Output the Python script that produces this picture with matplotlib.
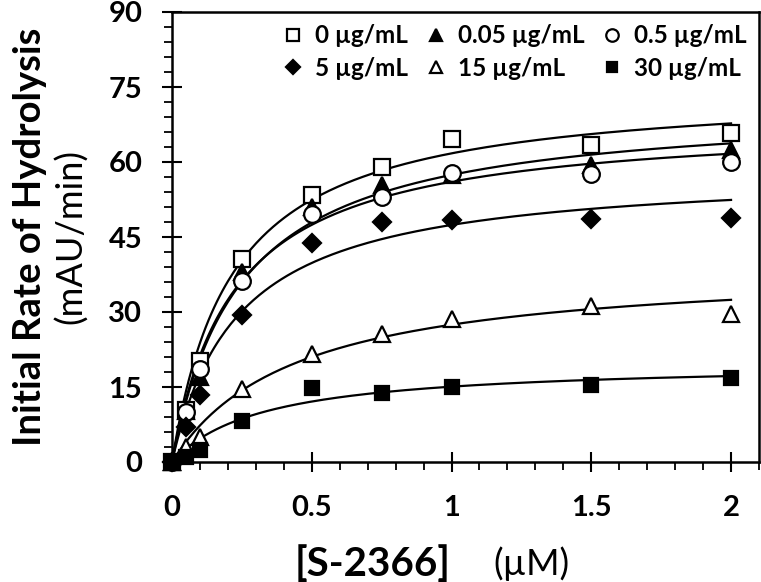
import numpy as np
import matplotlib.pyplot as plt
from matplotlib.ticker import MultipleLocator

# substrate concentrations (uM)
conc = [0, 0.05, 0.1, 0.25, 0.5, 0.75, 1, 1.5, 2]

# initial rates (mAU/min) for each inhibitor dose
rate_0 = [0, 10.5, 20.2, 40.7, 53.4, 59.0, 64.6, 63.4, 65.9]
rate_005 = [0, 10.2, 17.0, 38.0, 51.0, 55.4, 57.5, 59.4, 62.4]
rate_05 = [0, 10.0, 18.6, 36.2, 49.6, 53.0, 57.8, 57.6, 60.0]
rate_5 = [0, 7.0, 13.4, 29.4, 43.8, 48.0, 48.4, 48.7, 48.9]
rate_15 = [0, 3.0, 5.0, 14.6, 21.7, 25.7, 28.6, 31.3, 29.7]
rate_30 = [0, 1.0, 2.4, 8.3, 14.8, 13.9, 15.0, 15.4, 16.9]

labels = ['0 µg/mL', '0.05 µg/mL', '0.5 µg/mL', '5 µg/mL', '15 µg/mL', '30 µg/mL']

# Michaelis-Menten fit parameters
vmax = [75.0, 71.6, 68.5, 58.6, 39.6, 20.0]
km = [0.215, 0.247, 0.222, 0.236, 0.442, 0.327]

plt.rcParams['font.family'] = ['Lato', 'DejaVu Sans']

fig = plt.figure(figsize=(7.61, 5.82), dpi=100)
ax = fig.add_axes([172 / 761, 1 - 462 / 582, 587 / 761, 450 / 582])

series = [rate_0, rate_005, rate_05, rate_5, rate_15, rate_30]
# marker, face colour, size
styles = [('s', 'white', 12), ('^', 'black', 11), ('o', 'white', 12),
          ('D', 'black', 9), ('^', 'white', 11), ('s', 'black', 10)]

s = np.linspace(0, 2, 200)
for v, k in zip(vmax, km):
    ax.plot(s, v * s / (k + s), color='black', lw=1.6, zorder=2)

handles = []
for y, (m, fc, ms), lab in zip(series, styles, labels):
    h, = ax.plot(conc, y, linestyle='none', marker=m, markersize=ms,
                 markerfacecolor=fc, markeredgecolor='black', markeredgewidth=1.6,
                 label=lab, zorder=3, clip_on=False)
    handles.append(h)

ax.set_xlim(0, 2.1)
ax.set_ylim(0, 90)
ax.xaxis.set_major_locator(MultipleLocator(0.5))
ax.xaxis.set_minor_locator(MultipleLocator(0.1))
ax.yaxis.set_major_locator(MultipleLocator(15))
ax.yaxis.set_minor_locator(MultipleLocator(3))
ax.set_xticks([0, 0.5, 1, 1.5, 2])
ax.set_xticklabels(['0', '0.5', '1', '1.5', '2'])

ax.tick_params(which='major', direction='inout', length=15, width=1.5,
               labelsize=21)
ax.tick_params(axis='y', which='major', pad=14)
ax.tick_params(axis='x', which='major', pad=16)
ax.tick_params(which='minor', direction='out', length=6, width=1.3)
ax.tick_params(top=False, right=False, which='both')
for lab in ax.get_xticklabels() + ax.get_yticklabels():
    lab.set_fontweight('bold')
for sp in ax.spines.values():
    sp.set_linewidth(1.8)

# axis titles
ax.text(-0.242, 0.5, 'Initial Rate of Hydrolysis', transform=ax.transAxes,
        rotation=90, ha='center', va='center', fontsize=27.5, fontweight='bold')
ax.text(-0.172, 0.5, '(mAU/min)', transform=ax.transAxes,
        rotation=90, ha='center', va='center', fontsize=26)
ax.text(0.3416, -0.227, '[S-2366]', transform=ax.transAxes,
        ha='center', va='center', fontsize=29, fontweight='bold')
ax.text(0.612, -0.227, '(µM)', transform=ax.transAxes,
        ha='center', va='center', fontsize=26)

# legend: rows are (0, 0.05, 0.5) and (5, 15, 30)
order = [0, 3, 1, 4, 2, 5]
leg = ax.legend([handles[i] for i in order], [labels[i] for i in order],
                ncol=3, loc='upper right', bbox_to_anchor=(1.0, 1.0),
                frameon=False, markerscale=0.75, handlelength=0.8,
                handletextpad=0.5, columnspacing=0.75, labelspacing=0.4,
                borderaxespad=0.1, prop={'weight': 'bold', 'size': 17.5})

fig.savefig('out.png', dpi=100)
